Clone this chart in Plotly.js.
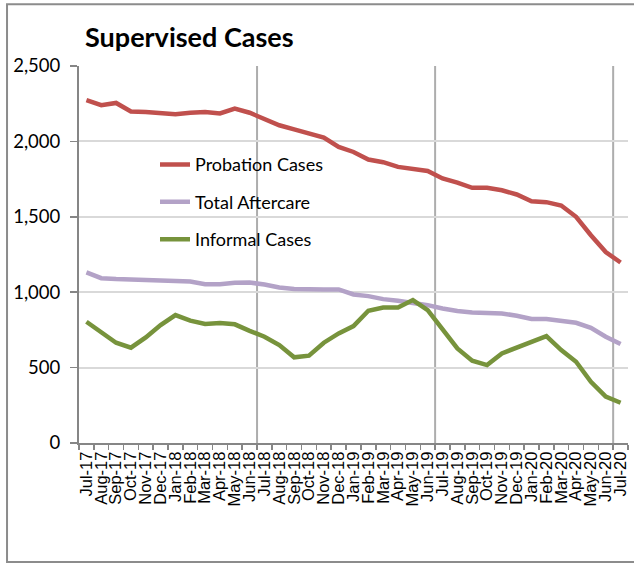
<!DOCTYPE html>
<html>
<head>
<meta charset="utf-8">
<script src="https://cdn.plot.ly/plotly-3.0.1.min.js"></script>
<style>html,body{margin:0;padding:0;background:#fff;}#chart{width:634px;height:566px;}</style>
</head>
<body>
<div id="chart"></div>
<script>
const months = ["Jul-17","Aug-17","Sep-17","Oct-17","Nov-17","Dec-17","Jan-18","Feb-18","Mar-18","Apr-18","May-18","Jun-18",
  "Jul-18","Aug-18","Sep-18","Oct-18","Nov-18","Dec-18","Jan-19","Feb-19","Mar-19","Apr-19","May-19","Jun-19",
  "Jul-19","Aug-19","Sep-19","Oct-19","Nov-19","Dec-19","Jan-20","Feb-20","Mar-20","Apr-20","May-20","Jun-20","Jul-20"];

const probationCases = [2273,2240,2255,2198,2195,2188,2180,2190,2195,2185,2218,2190,
  2147,2107,2080,2056,2025,1963,1930,1880,1862,1831,1820,1804,
  1754,1727,1692,1692,1676,1648,1603,1597,1575,1500,1378,1266,1197];

const totalAftercare = [1131,1093,1087,1083,1083,1080,1073,1071,1053,1053,1062,1064,
  1051,1031,1022,1018,1018,1018,985,974,954,943,932,914,
  892,875,866,862,859,844,822,822,811,797,764,705,656];

const informalCases = [804,738,665,632,700,782,848,811,789,795,787,744,
  705,649,568,579,665,727,775,877,899,899,948,881,
  755,627,546,517,594,632,678,709,616,539,406,307,267];

const seriesNames = ["Probation Cases","Total Aftercare","Informal Cases"];
const seriesColors = ["#C0504D","#B3A2C7","#77933C"];
const seriesData = [probationCases,totalAftercare,informalCases];

const traces = seriesData.map((vals,k)=>({
  type:"scatter", mode:"lines", x:months, y:vals, name:seriesNames[k],
  legendgroup:"g"+k,
  line:{color:seriesColors[k], width:4.5, shape:"linear"},
  hoverinfo:"x+y+name"
}));

const yearBoundaries = [11.5, 23.5, 35.5];
const shapes = yearBoundaries.map(b=>({
  type:"line", xref:"x", yref:"paper", x0:b, x1:b, y0:0, y1:1,
  line:{color:"#ADADAD", width:2}, layer:"below"
}));
shapes.push({type:"rect", xref:"paper", yref:"paper", x0:-0.1311, x1:1.03, y0:-0.3154, y1:1.1635,
  line:{color:"#8C8C8C", width:2}, fillcolor:"rgba(0,0,0,0)", layer:"below"});

const layout = {
  width:634, height:566,
  margin:{l:79, r:6, t:66, b:123},
  paper_bgcolor:"#fff", plot_bgcolor:"#fff",
  font:{family:"Lato, 'Liberation Sans', sans-serif", color:"#000"},
  title:{text:"<b>Supervised Cases</b>", font:{family:"Lato, sans-serif", size:27, color:"#000"},
    x:85/634, xanchor:"left", xref:"container", y:1-38/566, yanchor:"middle", yref:"container"},
  xaxis:{type:"category", tickmode:"linear", tick0:0, dtick:1, tickson:"boundaries",
    ticks:"outside", ticklen:5, tickcolor:"#868686", tickwidth:1.5,
    showline:true, linecolor:"#868686", linewidth:2, showgrid:false, zeroline:false,
    tickangle:-90, tickfont:{family:"'Liberation Sans', Arial, sans-serif", size:16.5, color:"#000"},
    range:[-0.5,36.5], fixedrange:true},
  yaxis:{range:[0,2500], dtick:500, tick0:0, tickformat:",d",
    ticks:"outside", ticklen:7, tickcolor:"#868686", tickwidth:1.5,
    showline:true, linecolor:"#868686", linewidth:2,
    showgrid:true, gridcolor:"#D9D9D9", gridwidth:2, zeroline:false,
    tickfont:{family:"Lato, sans-serif", size:18.5, color:"#000"}, ticklabelstandoff:6, fixedrange:true},
  showlegend:true,
  legend:{x:(155-79)/549, xanchor:"left", y:(443-146)/377.3, yanchor:"top",
    bgcolor:"rgba(0,0,0,0)", font:{family:"Lato, sans-serif", size:18, color:"#000"},
    tracegroupgap:11, traceorder:"grouped"},
  shapes:shapes
};

Plotly.newPlot("chart", traces, layout, {displayModeBar:false, staticPlot:true});
</script>
</body>
</html>
